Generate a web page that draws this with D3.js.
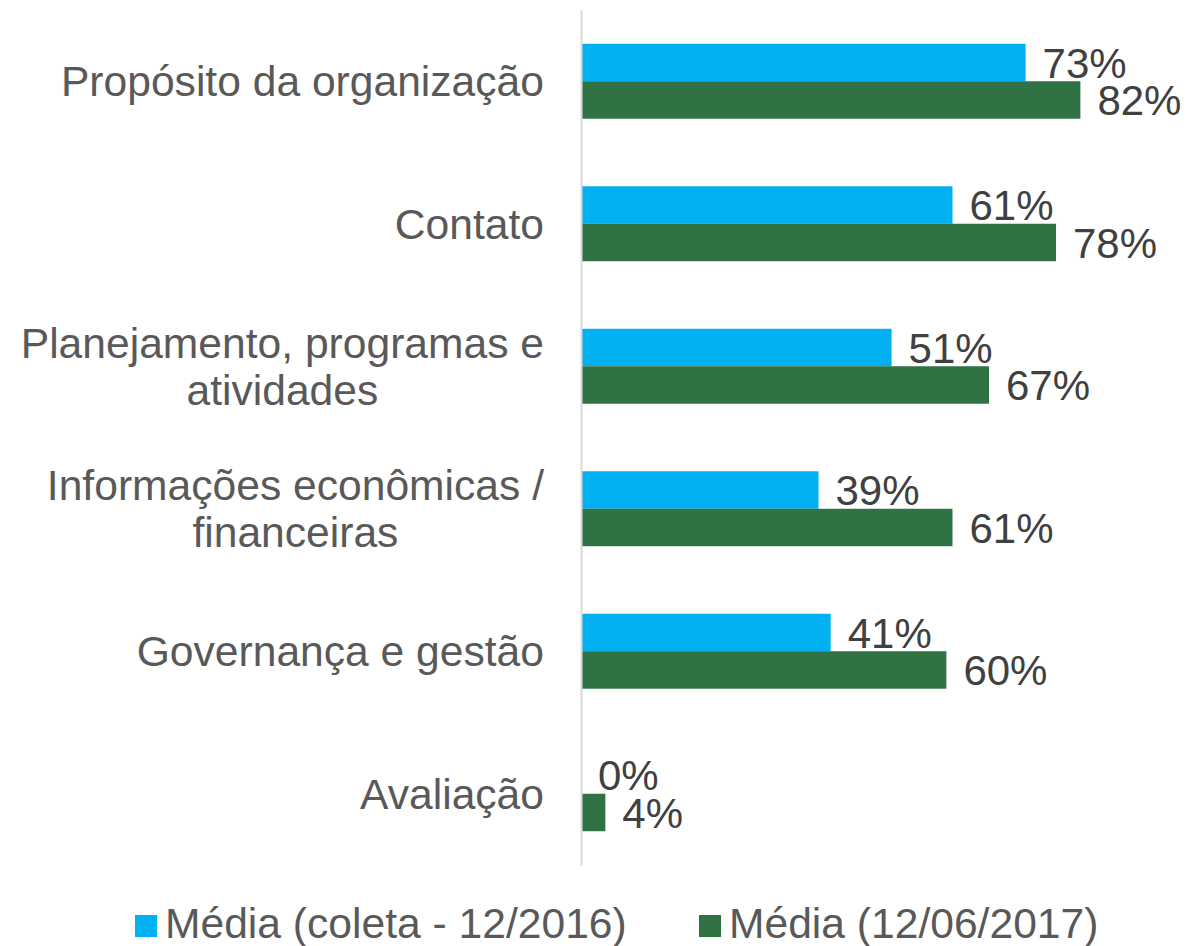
<!DOCTYPE html>
<html>
<head>
<meta charset="utf-8">
<script src="https://cdn.jsdelivr.net/npm/d3@7"></script>
<style>
  html, body { margin: 0; padding: 0; background: #fff; }
  svg { display: block; }
  text { font-family: "Liberation Sans", Arial, sans-serif; }
</style>
</head>
<body>
<svg id="chart" width="1187" height="946"></svg>
<script>
// ---- data ----
const categories = [
  "Propósito da organização",
  "Contato",
  "Planejamento, programas e\natividades",
  "Informações econômicas /\nfinanceiras",
  "Governança e gestão",
  "Avaliação"
];
const seriesNames = ["Média (coleta - 12/2016)", "Média (12/06/2017)"];
const values2016 = [0.73, 0.61, 0.51, 0.39, 0.41, 0.00];
const values2017 = [0.82, 0.78, 0.67, 0.61, 0.60, 0.04];
const seriesColors = ["#00B0F0", "#307244"];

const seriesValues = [values2016, values2017];

// ---- layout ----
const svg = d3.select("#chart");
const plotLeft = 581, plotRight = 1190, plotTop = 10, plotBottom = 865;
const labelFont = 42.6, valueFont = 42;

const x = d3.scaleLinear().domain([0, 1]).range([plotLeft, plotRight]);
const y = d3.scaleBand().domain(categories).range([plotTop, plotBottom])
  .paddingInner(0.474).paddingOuter(0.237);
const ySub = d3.scaleBand().domain(seriesNames).range([0, y.bandwidth()]);

const rows = categories.map((c, i) => ({
  cat: c,
  vals: seriesNames.map((s, j) => ({ series: s, j, value: seriesValues[j][i] }))
}));

const g = svg.append("g");

const groups = g.selectAll("g.cat").data(rows).join("g")
  .attr("class", "cat")
  .attr("transform", d => `translate(0,${y(d.cat)})`);

groups.selectAll("rect").data(d => d.vals).join("rect")
  .attr("x", x(0))
  .attr("y", d => ySub(d.series))
  .attr("width", d => x(d.value) - x(0))
  .attr("height", ySub.bandwidth())
  .attr("fill", d => seriesColors[d.j]);

const fmt = d3.format(".0%");
groups.selectAll("text.val").data(d => d.vals).join("text")
  .attr("class", "val")
  .attr("x", d => x(d.value) + 17)
  .attr("y", d => ySub(d.series) + ySub.bandwidth() / 2)
  .attr("dy", "0.36em")
  .attr("font-size", valueFont)
  .attr("fill", "#404040")
  .text(d => fmt(d.value));

// axis line (category axis)
const yAxis = d3.axisLeft(y).tickSize(0).tickFormat("");
const axisG = svg.append("g").attr("transform", `translate(${plotLeft},0)`).call(yAxis);
axisG.select(".domain").attr("stroke", "#d9d9d9").attr("stroke-width", 2);

// category labels: block right-aligned at 544, lines centered within block
const labelRight = 544;
const lineH = 47;
const labels = svg.append("g").selectAll("text").data(categories).join("text")
  .attr("text-anchor", "middle")
  .attr("font-size", labelFont)
  .attr("fill", "#595959");
labels.each(function(d) {
  const lines = d.split("\n");
  const t = d3.select(this);
  const offset = -(lines.length - 1) * lineH / 2;
  const spans = lines.map((ln, k) => t.append("tspan")
      .attr("x", 0)
      .attr("y", offset + k * lineH)
      .attr("dy", "0.35em")
      .text(ln));
  const maxW = d3.max(spans, s => s.node().getComputedTextLength());
  t.attr("transform", `translate(${labelRight - maxW / 2},${y(d) + y.bandwidth() / 2})`);
});

// legend
const legendX = [135, 699];
const legend = svg.append("g").selectAll("g").data(seriesNames).join("g")
  .attr("transform", (d, i) => `translate(${legendX[i]},926)`);
legend.append("rect")
  .attr("x", 0).attr("y", -11)
  .attr("width", 22).attr("height", 22)
  .attr("fill", (d, i) => seriesColors[i]);
legend.append("text")
  .attr("x", 30).attr("y", 0).attr("dy", "0.27em")
  .attr("font-size", labelFont)
  .attr("fill", "#595959")
  .text(d => d);
</script>
</body>
</html>
